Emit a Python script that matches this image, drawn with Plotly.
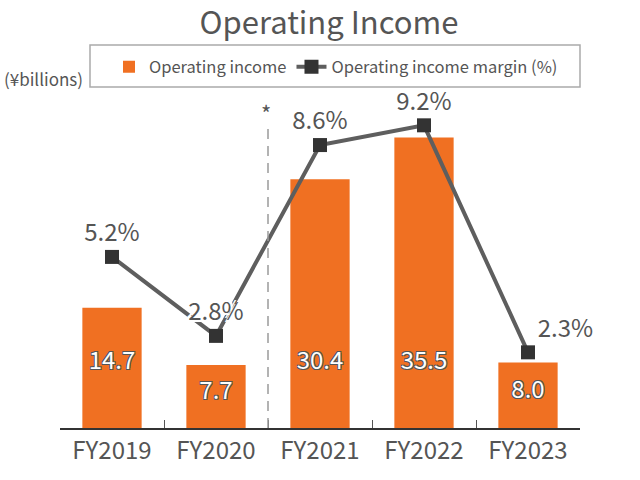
import plotly.graph_objects as go

categories = ["FY2019", "FY2020", "FY2021", "FY2022", "FY2023"]
operating_income = [14.7, 7.7, 30.4, 35.5, 8.0]
margin_pct = [5.2, 2.8, 8.6, 9.2, 2.3]
income_labels = ["14.7", "7.7", "30.4", "35.5", "8.0"]
margin_labels = ["5.2%", "2.8%", "8.6%", "9.2%", "2.3%"]

FONT = "Noto Sans CJK JP, Source Sans Pro, Noto Sans, sans-serif"
ORANGE = "#F07022"
GRAY = "#555555"

# plot box in page pixels
PX_L, PX_R, PX_T, PX_B = 60, 580, 103, 428
W, H = 640, 480
ML, MT = PX_L, PX_T
MR, MB = W - PX_R, H - PX_B
PW, PH = PX_R - PX_L, PX_B - PX_T


def px_x(x):
    return (x - PX_L) / PW


def px_y(y):
    return (PX_B - y) / PH


outline_dark = "-1px -1px 0 #555, 1px -1px 0 #555, -1px 1px 0 #555, 1px 1px 0 #555"
outline_white = "-2px -2px 0 #fff, 2px -2px 0 #fff, -2px 2px 0 #fff, 2px 2px 0 #fff"

fig = go.Figure()

fig.add_trace(go.Bar(
    x=categories, y=operating_income, name="Operating income",
    marker=dict(color=ORANGE, line=dict(width=0)), width=0.57,
    yaxis="y", hoverinfo="skip",
))

# bar value labels (placed low inside bars)
fig.add_trace(go.Scatter(
    x=categories, y=[min(v * 0.55, 7.9) for v in operating_income],
    mode="text", text=income_labels, showlegend=False, yaxis="y",
    textfont=dict(family=FONT, size=24, color="white", shadow=outline_dark),
    cliponaxis=False, hoverinfo="skip",
))

fig.add_trace(go.Scatter(
    x=categories, y=margin_pct, name="Operating income margin (%)",
    mode="lines+markers+text", yaxis="y2",
    line=dict(color="#5e5e5e", width=4),
    marker=dict(symbol="square", size=14, color="#333333"),
    text=margin_labels,
    textposition=["top center", "top center", "top center", "top center", "top right"],
    textfont=dict(family=FONT, size=24, color=GRAY, shadow=outline_white),
    cliponaxis=False, hoverinfo="skip",
))

fig.update_layout(
    width=W, height=H,
    margin=dict(l=ML, r=MR, t=MT, b=MB),
    paper_bgcolor="white", plot_bgcolor="white",
    font=dict(family=FONT, color=GRAY),
    title=dict(text="Operating Income", x=329 / W, xanchor="center",
               y=1 - 23 / H, yanchor="middle",
               font=dict(family=FONT, size=31, color=GRAY)),
    showlegend=True,
    legend=dict(orientation="h", x=px_x(336), xanchor="center", y=px_y(67), yanchor="middle",
                font=dict(family=FONT, size=16.5, color=GRAY), bgcolor="rgba(0,0,0,0)",
                itemwidth=30, traceorder="normal"),
    xaxis=dict(type="category", showgrid=False, showline=True, linecolor="#333333", linewidth=1.5,
               ticks="inside", tickson="boundaries", ticklen=8, tickcolor="#555555", tickwidth=1,
               tickfont=dict(family=FONT, size=24, color=GRAY), range=[-0.5, 4.5]),
    yaxis=dict(visible=False, range=[0, PH / 8.18], showgrid=False),
    yaxis2=dict(visible=False, range=[0, PH / 32.9], overlaying="y", showgrid=False),
    bargap=0.43,
    shapes=[
        dict(type="rect", xref="paper", yref="paper",
             x0=px_x(90), x1=px_x(580), y0=px_y(87), y1=px_y(45),
             line=dict(color="#aaaaaa", width=1.5), fillcolor="rgba(0,0,0,0)", layer="below"),
        dict(type="line", xref="x", yref="paper", x0=1.5, x1=1.5,
             y0=0, y1=px_y(128),
             line=dict(color="#9a9a9a", width=1.5, dash="10px,7px")),
    ],
    annotations=[
        dict(text="(¥billions)", xref="paper", yref="paper", x=px_x(43), y=px_y(78),
             xanchor="center", yanchor="middle", showarrow=False,
             font=dict(family=FONT, size=17, color=GRAY)),
        dict(text="*", xref="x", yref="paper", x=1.48, y=px_y(112),
             xanchor="center", yanchor="middle", showarrow=False,
             font=dict(family=FONT, size=22, color=GRAY)),
    ],
)

fig.write_html("out.html", config={"displayModeBar": False},
               post_script="document.body.style.margin='0';")
